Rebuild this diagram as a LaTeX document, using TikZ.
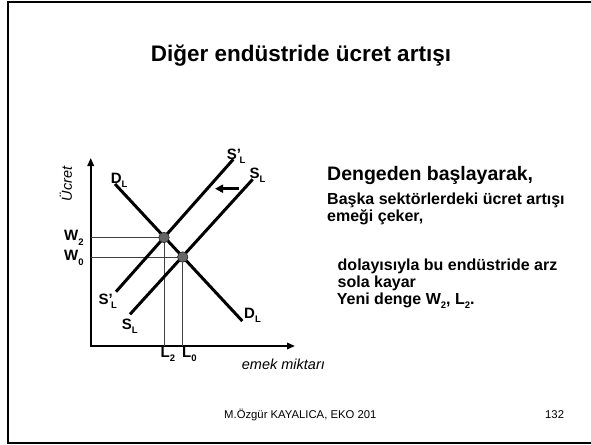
\documentclass[tikz,border=0pt]{standalone}
\usepackage{fontspec}
\setmainfont{Liberation Sans}
\usetikzlibrary{arrows.meta}
\newcommand{\lsub}[1]{\raisebox{-0.3em}{\fontsize{9.5}{9.5}\selectfont #1}}
\begin{document}
\begin{tikzpicture}[x=1pt,y=-1pt,
  curve/.style={line width=3pt},
  axisline/.style={line width=1.8pt,line join=miter},
  guide/.style={line width=0.8pt,black!75},
  eqdot/.style={circle,fill=black!60,draw=black!85,line width=0.6pt,inner sep=0pt,minimum size=10.5pt},
  lab/.style={font=\fontsize{15}{15}\selectfont\bfseries,inner sep=0pt,anchor=base west},
  body/.style={font=\fontsize{16}{18}\selectfont\bfseries,inner sep=0pt,anchor=base west},
  foot/.style={font=\fontsize{11.3}{13}\selectfont,inner sep=0pt,anchor=base west}]
\useasboundingbox (0,0) rectangle (591,444);
\draw[line width=2pt] (7.5,2.5) rectangle (600,442.5);
% title
\node[font=\fontsize{22.5}{27}\selectfont\bfseries,inner sep=0pt,anchor=base] (title) at (301,62) {Diğer endüstride ücret artışı};
% axes
\coordinate (O) at (90.7,346);
\coordinate (ytop) at (90.7,158);
\coordinate (xend) at (295,346);
\draw[axisline,{Triangle[length=8pt,width=6.5pt]}-{Triangle[length=8pt,width=6.5pt]}] (ytop) -- (O) -- (xend);
% curve end points
\coordinate (D1) at (115,184);
\coordinate (D2) at (242.3,321);
\coordinate (Sp1) at (116,291.7);
\coordinate (Sp2) at (233.3,159.3);
\coordinate (S1) at (130,314.3);
\coordinate (S2) at (252.7,179.3);
\coordinate (E2) at (164,237.5);
\coordinate (E0) at (182.7,257);
% guides
\draw[guide] (O |- E2) -- (E2) -- (E2 |- O);
\draw[guide] (O |- E0) -- (E0) -- (E0 |- O);
% curves
\draw[curve] (D1) -- (D2);
\draw[curve] (Sp1) -- (Sp2);
\draw[curve] (S1) -- (S2);
\node[eqdot] (dot2) at (E2) {};
\node[eqdot] (dot0) at (E0) {};
% shift arrow
\coordinate (a1) at (239,188.7);
\coordinate (a2) at (215,188.7);
\draw[line width=2.6pt,-{Triangle[length=8pt,width=8pt]}] (a1) -- (a2);
% curve labels
\node[lab] (lDt) at (110.7,183) {D\lsub{L}};
\node[lab] (lSpt) at (226.7,159.3) {S'\kern-1.5pt\lsub{L}};
\node[lab] (lSt) at (249.3,178.3) {S\lsub{L}};
\node[lab] (lSpb) at (98.3,304) {S'\kern-1.5pt\lsub{L}};
\node[lab] (lSb) at (121.7,329.3) {S\lsub{L}};
\node[lab] (lDb) at (244,318.3) {D\lsub{L}};
\node[lab] (lW2) at (64,240.7) {W\lsub{2}};
\node[lab] (lW0) at (64,260.7) {W\lsub{0}};
\node[lab] (lL2) at (160.5,357.3) {L\lsub{2}};
\node[lab] (lL0) at (182,357.3) {L\lsub{0}};
% axis titles
\node[font=\fontsize{14.5}{16}\selectfont\itshape,inner sep=0pt,rotate=90] (ylab) at (66,184) {Ücret};
\node[font=\fontsize{14.5}{16}\selectfont\itshape,inner sep=0pt,anchor=base west] (xlab) at (241.7,369) {emek miktarı};
% right text
\node[font=\fontsize{19.5}{22}\selectfont\bfseries,inner sep=0pt,anchor=base west] (t1) at (327,180.7) {Dengeden başlayarak,};
\node[body] (t2) at (327,204) {Başka sektörlerdeki ücret artışı};
\node[body] (t3) at (327,221.7) {emeği çeker,};
\node[body] (t4) at (337.5,270.7) {dolayısıyla bu endüstride arz};
\node[body] (t5) at (337.5,287.3) {sola kayar};
\node[body] (t6) at (336.7,304) {Yeni denge W\lsub{2}, L\lsub{2}.};
% footer
\node[foot] (f1) at (224,418) {M.Özgür KAYALICA, EKO 201};
\node[foot] (f2) at (545,418) {132};
\end{tikzpicture}
\end{document}
